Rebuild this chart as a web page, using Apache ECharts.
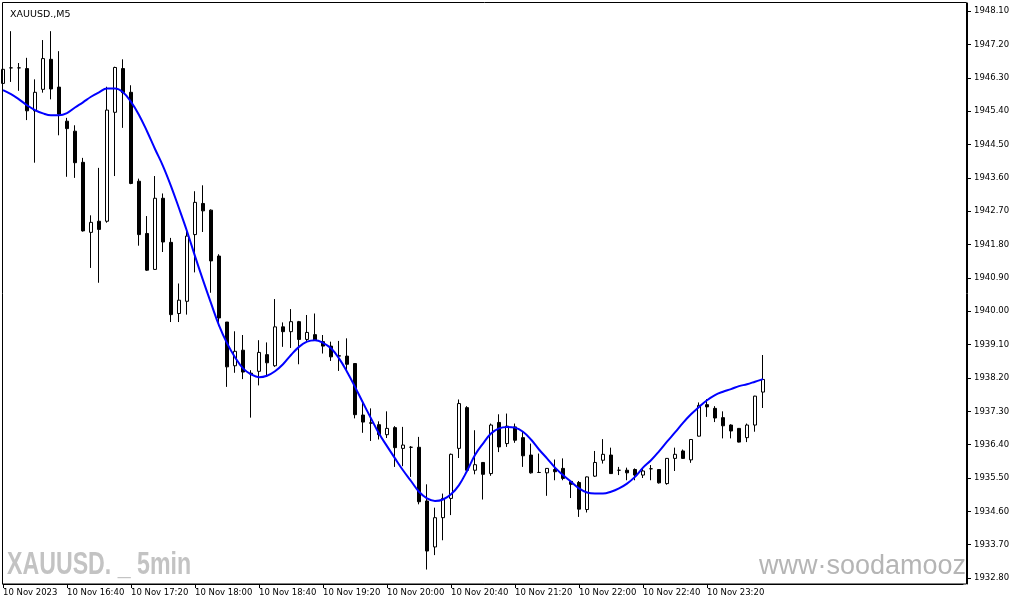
<!DOCTYPE html>
<html>
<head>
<meta charset="utf-8">
<script src="https://cdn.jsdelivr.net/npm/echarts@6/dist/echarts.min.js"></script>
<style>
html,body{margin:0;padding:0;background:#fff;}
#chart{width:1015px;height:605px;}
</style>
</head>
<body>
<div id="chart"></div>
<script>
// 5-minute bars, 10 Nov 2023 16:00 .. 23:55
const opens = [1946.15,1946.57,1946.57,1946.55,1945.41,1945.99,1946.80,1946.05,1945.13,1944.86,
1944.02,1942.13,1942.43,1942.43,1945.37,1946.55,1945.91,1943.51,1942.10,1941.13,
1943.05,1941.86,1939.94,1940.27,1942.07,1942.91,1942.73,1941.49,1939.71,1938.53,
1938.95,1938.33,1938.38,1938.83,1938.53,1939.58,1939.45,1939.72,1939.24,1939.37,
1939.18,1939.06,1938.80,1938.79,1938.59,1937.20,1936.99,1936.94,1936.67,1936.86,
1936.30,1936.33,1936.33,1934.88,1933.64,1934.43,1934.95,1936.30,1937.40,1935.71,
1935.92,1935.62,1937.00,1936.43,1936.88,1936.59,1936.12,1935.65,1935.64,1935.73,
1935.76,1935.41,1935.38,1934.65,1935.55,1935.98,1936.12,1935.71,1935.71,1935.73,
1935.58,1935.75,1935.73,1935.35,1936.03,1936.23,1935.99,1936.63,1937.48,1937.38,
1937.13,1936.93,1936.84,1936.59,1936.93,1937.82];
const closes = [1946.53,1946.57,1946.57,1945.41,1945.91,1946.82,1946.00,1945.32,1944.93,1944.01,
1942.17,1942.40,1942.21,1945.43,1946.58,1945.90,1943.45,1942.07,1941.11,1943.05,
1941.87,1939.91,1940.30,1942.03,1942.94,1942.71,1941.36,1939.82,1938.50,1938.92,
1938.36,1938.31,1938.89,1938.61,1939.58,1939.45,1939.72,1939.24,1939.43,1939.22,
1939.06,1938.77,1938.79,1938.57,1937.21,1937.01,1936.98,1936.67,1936.84,1936.32,
1936.39,1936.33,1934.86,1933.53,1934.43,1934.95,1936.14,1937.51,1935.71,1935.86,
1935.60,1936.93,1936.34,1936.90,1936.52,1936.10,1935.64,1935.65,1935.76,1935.67,
1935.49,1935.33,1934.66,1935.53,1935.92,1936.14,1935.62,1935.71,1935.64,1935.58,
1935.69,1935.75,1935.37,1936.03,1936.14,1936.03,1936.54,1937.46,1937.42,1937.12,
1936.91,1936.77,1936.47,1936.93,1937.71,1938.16];
const lows = [1945.16,1946.19,1945.95,1945.16,1944.01,1945.90,1945.72,1944.75,1943.63,1943.60,
1942.15,1941.17,1940.77,1942.39,1943.65,1944.95,1943.43,1941.77,1941.09,1941.12,
1941.60,1939.71,1939.71,1939.91,1941.05,1942.14,1940.50,1939.60,1937.96,1938.34,
1938.17,1937.13,1938.00,1938.26,1938.50,1939.04,1939.01,1938.57,1939.20,1939.22,
1938.86,1938.66,1938.39,1938.36,1937.11,1936.72,1936.50,1936.54,1936.58,1935.80,
1935.82,1935.53,1934.79,1933.03,1933.42,1933.82,1934.50,1936.04,1935.67,1935.60,
1934.92,1935.56,1936.20,1936.34,1936.45,1935.80,1935.62,1935.64,1935.02,1935.44,
1935.44,1934.96,1934.45,1934.57,1935.53,1935.89,1935.61,1935.58,1935.44,1935.44,
1935.50,1935.44,1935.35,1935.32,1935.69,1936.02,1935.91,1936.62,1937.15,1937.01,
1936.57,1936.57,1936.46,1936.47,1936.75,1937.39];
const highs = [1946.89,1947.56,1946.70,1946.84,1946.26,1947.32,1947.56,1947.02,1945.22,1945.02,
1944.14,1942.59,1943.87,1946.06,1946.60,1946.80,1946.10,1943.58,1942.57,1943.65,
1943.18,1941.98,1940.75,1942.21,1943.24,1943.40,1942.75,1941.54,1939.71,1939.46,
1939.36,1938.41,1939.22,1939.16,1940.33,1939.70,1940.06,1939.74,1939.90,1939.94,
1939.36,1939.18,1939.20,1939.27,1938.60,1937.57,1937.38,1937.03,1937.30,1936.90,
1936.88,1936.36,1936.61,1935.33,1934.70,1935.08,1936.16,1937.62,1937.44,1936.79,
1935.93,1936.97,1937.22,1937.24,1936.97,1936.75,1936.43,1936.16,1935.77,1936.00,
1936.03,1935.42,1935.42,1935.54,1936.23,1936.55,1936.32,1935.80,1935.78,1935.76,
1935.76,1935.85,1935.74,1936.04,1936.32,1936.27,1936.55,1937.54,1937.63,1937.44,
1937.30,1936.95,1936.85,1936.97,1937.72,1938.82];
// smoothed moving average (blue line)
const maValues = [1945.97,1945.86,1945.72,1945.56,1945.43,1945.34,1945.29,1945.29,1945.35,1945.50,
1945.64,1945.79,1945.91,1946.01,1946.01,1945.91,1945.65,1945.30,1944.86,1944.38,
1943.92,1943.38,1942.78,1942.16,1941.49,1940.84,1940.22,1939.62,1939.14,1938.76,
1938.46,1938.30,1938.22,1938.26,1938.38,1938.57,1938.82,1939.04,1939.18,1939.22,
1939.15,1939.00,1938.73,1938.37,1937.96,1937.53,1937.11,1936.70,1936.36,1936.03,
1935.71,1935.42,1935.13,1934.95,1934.88,1934.92,1935.06,1935.31,1935.69,1936.12,
1936.43,1936.70,1936.84,1936.88,1936.86,1936.75,1936.54,1936.27,1936.03,1935.78,
1935.58,1935.40,1935.22,1935.11,1935.08,1935.08,1935.13,1935.22,1935.35,1935.53,
1935.78,1935.98,1936.22,1936.48,1936.73,1936.99,1937.22,1937.42,1937.60,1937.74,
1937.83,1937.90,1937.98,1938.03,1938.10,1938.17];
const yTickValues = [1932.80,1933.70,1934.60,1935.50,1936.40,1937.30,1938.20,1939.10,1940.00,
1940.90,1941.80,1942.70,1943.60,1944.50,1945.40,1946.30,1947.20,1948.10];
const xTickLabels = ['10 Nov 2023','10 Nov 16:40','10 Nov 17:20','10 Nov 18:00','10 Nov 18:40',
'10 Nov 19:20','10 Nov 20:00','10 Nov 20:40','10 Nov 21:20','10 Nov 22:00','10 Nov 22:40','10 Nov 23:20'];

// categories: 96 five-minute slots plus empty right margin slots
const categories = [];
for (let i = 0; i < 121; i++) {
  if (i < 96) {
    const m = 16 * 60 + i * 5;
    categories.push(String(Math.floor(m / 60)).padStart(2, '0') + ':' + String(m % 60).padStart(2, '0'));
  } else {
    categories.push('');
  }
}
const candleData = opens.map((o, i) => [o, closes[i], lows[i], highs[i]]);

const FONT = 'DejaVu Sans';
const chart = echarts.init(document.getElementById('chart'));
chart.setOption({
  animation: false,
  backgroundColor: '#ffffff',
  title: {
    text: 'XAUUSD.,M5', left: 5, top: 5,
    textStyle: { fontFamily: FONT, fontSize: 9.5, fontWeight: 'normal', color: '#000' }
  },
  grid: { left: 3, top: 3, width: 960, height: 581, show: false },
  xAxis: {
    type: 'category',
    data: categories,
    boundaryGap: false,
    axisLine: { show: true, lineStyle: { color: '#000', width: 1 } },
    axisTick: {
      show: true, length: 4, inside: false,
      interval: (idx) => idx % 8 === 0 && idx < 96,
      lineStyle: { color: '#000' }
    },
    axisLabel: {
      show: true, align: 'left', margin: 4,
      interval: (idx) => idx % 8 === 0 && idx < 96,
      fontFamily: FONT, fontSize: 8.5, color: '#000',
      formatter: (v, idx) => xTickLabels[idx / 8] || ''
    },
    splitLine: { show: false }
  },
  yAxis: {
    type: 'value',
    position: 'right',
    offset: 4,
    min: 1932.64,
    max: 1948.32,
    scale: true,
    axisLine: { show: true, lineStyle: { color: '#000', width: 1 } },
    axisTick: { show: true, length: 4, inside: false, customValues: yTickValues, lineStyle: { color: '#000' } },
    axisLabel: {
      show: true, margin: 7, customValues: yTickValues,
      fontFamily: FONT, fontSize: 8.5, color: '#000',
      formatter: (v) => Number(v).toFixed(2)
    },
    splitLine: { show: false }
  },
  graphic: [
    { type: 'rect', silent: true, z: 100,
      shape: { x: 2.5, y: 2.5, width: 964, height: 581.5 },
      style: { fill: 'none', stroke: '#000', lineWidth: 1 } },
    { type: 'text', silent: true, z: 1, x: 7, y: 549, scaleX: 0.724, scaleY: 1,
      style: { text: 'XAUUSD. _ 5min', fill: '#c3c3c3',
        font: 'bold 32px "Liberation Sans", Arial, sans-serif' } },
    { type: 'text', silent: true, z: 1, left: 759, top: 553,
      style: { text: 'www\u00b7soodamooz', fill: '#b5b5b5',
        font: '27px "Liberation Sans", Arial, sans-serif' } }
  ],
  series: [
    {
      type: 'candlestick',
      data: candleData,
      barWidth: 4,
      clip: true,
      itemStyle: {
        color: '#ffffff', color0: '#000000',
        borderColor: '#000000', borderColor0: '#000000', borderColorDoji: '#000000',
        borderWidth: 1
      },
      z: 3
    },
    {
      type: 'line',
      data: maValues,
      smooth: 0.4,
      symbol: 'none',
      lineStyle: { color: '#0000ff', width: 2 },
      z: 4
    }
  ]
});
</script>
</body>
</html>
